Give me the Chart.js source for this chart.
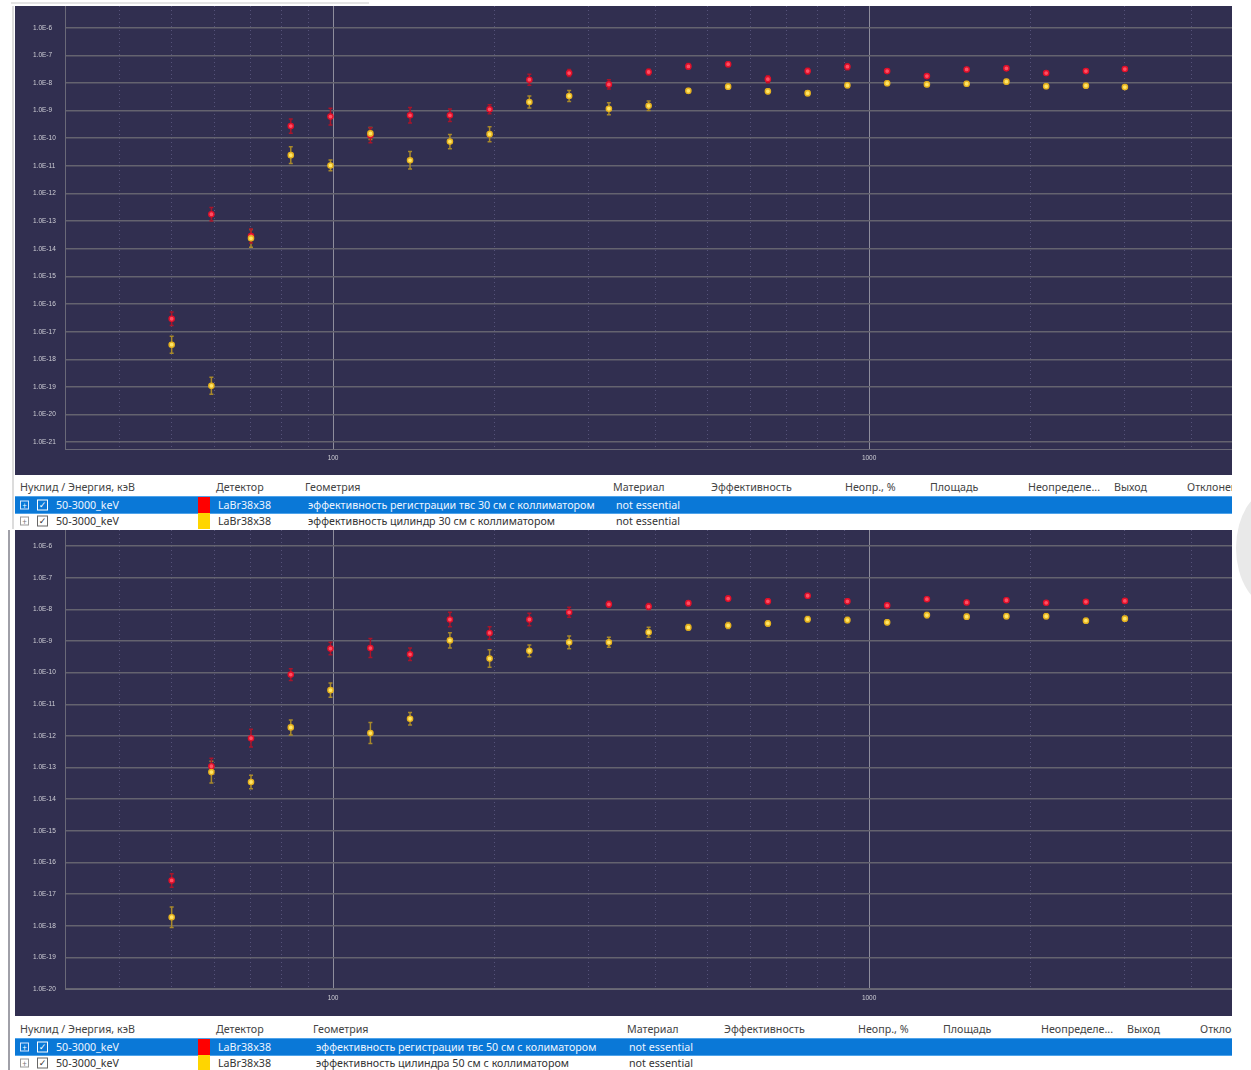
<!DOCTYPE html>
<html>
<head>
<meta charset="utf-8">
<script src="https://cdn.jsdelivr.net/npm/chart.js@4.4.0/dist/chart.umd.min.js"></script>
<style>
    body { margin: 0; width: 1251px; height: 1070px; background: #fff; position: relative; overflow: hidden;
           font-family: 'Noto Sans', 'Open Sans', sans-serif; }
    .panel { position: absolute; left: 15px; width: 1217px; background: #312f50; }
    #p1 { top: 6px; height: 469px; }
    #p2 { top: 530px; height: 486px; }
    .panel canvas { position: absolute; left: 0; top: 0; }
    .tbl { position: absolute; left: 15px; width: 1217px; background: #fff; overflow: hidden; }
    .row { position: absolute; left: 0; width: 1217px; font-size: 10.7px; color: #333; }
    .row span { position: absolute; top: 50%; transform: translateY(-50%); white-space: nowrap; }
    .hdr { color: #444; border-bottom: 1px solid #e4e4e4; }
    .sel { background: #0a78d7; color: #eef5ff; outline: 1px solid #4ea3ea; }
    .sw { width: 12px; height: 100%; top: 0 !important; transform: none !important; }
    .exp { width: 7px; height: 7px; border: 1px solid #9a9a9a; font-size: 8px; line-height: 7px; text-align: center; color: #777; }
    .sel .exp { border-color: #d8e8ff; color: #fff; }
    .chk { width: 9px; height: 9px; border: 1px solid #666; font-size: 9px; line-height: 9px; text-align: center; font-family: 'DejaVu Sans'; color: #333; }
    .sel .chk { border-color: #fff; color: #fff; }
    .side { position: absolute; left: 0; width: 8px; top: 530px; height: 540px; background: #fff; border-right: 2px solid #a0a0a8; }
    .edge { position: absolute; left: 12px; top: 6px; width: 2px; height: 523px; background: #dcdcdc; }
    .blob { position: absolute; left: 1236px; top: 488px; width: 80px; height: 120px; border-radius: 50%; background: #e9e9e9; }
    .topline { position: absolute; left: 11px; top: 2px; width: 358px; height: 2px; background: #e4e4e4; }
</style>
</head>
<body>
<div class="topline"></div>
<div class="edge"></div>
<div class="side"></div>
<div class="blob"></div>

<div class="panel" id="p1"><canvas id="chartTop" width="1217" height="469"></canvas></div>
<div class="tbl" id="t1" style="top:477px;height:52px"></div>

<div class="panel" id="p2"><canvas id="chartBottom" width="1217" height="486"></canvas></div>
<div class="tbl" id="t2" style="top:1018px;height:52px"></div>

<script>
// Energies, keV (same grid for every series)
const energies = [50, 59.3, 70.3, 83.4, 98.9, 117.4, 139.2, 165.2, 195.9, 232.4, 275.7, 327, 387.9,
                  460.1, 545.8, 647.4, 768, 911, 1080.6, 1281.8, 1520.5, 1803.6, 2139.4, 2537.8, 3000];

// Top chart: 30 cm
const top30Red = [2.95e-17, 1.78e-13, 2.9e-14, 2.76e-10, 6.1e-10, 1.29e-10, 6.8e-10, 6.8e-10, 1.12e-9,
                  1.32e-8, 2.29e-8, 8.9e-9, 2.5e-8, 4.0e-8, 4.8e-8, 1.38e-8, 2.7e-8, 3.9e-8,
                  2.7e-8, 1.78e-8, 3.1e-8, 3.4e-8, 2.29e-8, 2.7e-8, 3.2e-8];
const top30RedErr = [1.75, 1.76, 1.8, 1.82, 2.0, 1.87, 1.9, 1.68, 1.45, 1.58, 1.34, 1.48, 1.28,
                     1.28, 1.23, 1.34, 1.28, 1.28, 1.18, 1.18, 1.18, 1.18, 1.18, 1.18, 1.18];
const top30Yellow = [3.4e-18, 1.1e-19, 2.4e-14, 2.45e-11, 1.04e-11, 1.5e-10, 1.6e-11, 7.6e-11, 1.41e-10,
                     2.05e-9, 3.4e-9, 1.17e-9, 1.5e-9, 5.2e-9, 7.4e-9, 5.0e-9, 4.3e-9, 8.3e-9,
                     9.8e-9, 8.9e-9, 9.4e-9, 1.12e-8, 7.6e-9, 8.0e-9, 7.1e-9];
const top30YellowErr = [2.03, 2.03, 2.1, 2.0, 1.56, 1.65, 2.08, 1.82, 1.87, 1.65, 1.58, 1.65, 1.49,
                        1.23, 1.23, 1.23, 1.23, 1.23, 1.2, 1.2, 1.2, 1.2, 1.2, 1.2, 1.2];

// Bottom chart: 50 cm
const bot50Red = [2.7e-17, 1.1e-13, 8.5e-13, 8.7e-11, 5.8e-10, 6.0e-10, 3.8e-10, 4.8e-9, 1.8e-9,
                  4.8e-9, 8.1e-9, 1.45e-8, 1.23e-8, 1.58e-8, 2.2e-8, 1.8e-8, 2.7e-8, 1.8e-8,
                  1.34e-8, 2.1e-8, 1.66e-8, 1.95e-8, 1.62e-8, 1.74e-8, 1.86e-8];
const bot50RedErr = [1.63, 1.79, 1.9, 1.53, 1.58, 2.0, 1.58, 1.69, 1.57, 1.57, 1.44, 1.24, 1.24,
                     1.2, 1.2, 1.2, 1.18, 1.18, 1.16, 1.16, 1.16, 1.16, 1.16, 1.16, 1.16];
const bot50Yellow = [1.86e-18, 7.2e-14, 3.5e-14, 1.86e-12, 2.8e-11, 1.23e-12, 3.5e-12, 1.05e-9, 2.8e-10,
                     4.9e-10, 9.1e-10, 9.1e-10, 1.9e-9, 2.7e-9, 3.1e-9, 3.6e-9, 4.9e-9, 4.6e-9,
                     3.9e-9, 6.6e-9, 5.9e-9, 6.1e-9, 6.1e-9, 4.4e-9, 5.1e-9];
const bot50YellowErr = [2.12, 2.2, 1.63, 1.73, 1.69, 2.15, 1.58, 1.73, 1.88, 1.53, 1.58, 1.44, 1.44,
                        1.24, 1.24, 1.22, 1.22, 1.22, 1.2, 1.2, 1.2, 1.2, 1.2, 1.2, 1.2];

// Axis ticks
const xMajorTicks = [100, 1000];
const xMinorTicks = [40, 50, 60, 70, 80, 90, 200, 300, 400, 500, 600, 700, 800, 900, 2000, 3000, 4000];
const yExpTop = [-6, -7, -8, -9, -10, -11, -12, -13, -14, -15, -16, -17, -18, -19, -20, -21];
const yExpBottom = [-6, -7, -8, -9, -10, -11, -12, -13, -14, -15, -16, -17, -18, -19, -20];

// Table texts
const headersTop = ['Нуклид / Энергия, кэВ', '', 'Детектор', 'Геометрия', 'Материал', 'Эффективность',
                    'Неопр., %', 'Площадь', 'Неопределе...', 'Выход', 'Отклонение'];
const rowsTop = [
    ['50-3000_keV', '#ff0000', 'LaBr38x38', 'эффективность регистрации твс 30 см с коллиматором', 'not essential'],
    ['50-3000_keV', '#ffd500', 'LaBr38x38', 'эффективность цилиндр 30 см с коллиматором', 'not essential']
];
const rowsBottom = [
    ['50-3000_keV', '#ff0000', 'LaBr38x38', 'эффективность регистрации твс 50 см с колиматором', 'not essential'],
    ['50-3000_keV', '#ffd500', 'LaBr38x38', 'эффективность цилиндра 50 см с коллиматором', 'not essential']
];

const red = { point: '#ff4f62', border: '#e0102a', err: '#a8152a' };
const yellow = { point: '#ffe566', border: '#e6b21e', err: '#a8892a' };

// Vertical error bars drawn from the y scale
const errorBars = {
    id: 'errorBars',
    beforeDatasetsDraw(chart) {
        const ctx = chart.ctx;
        const yScale = chart.scales.y;
        chart.data.datasets.forEach((ds, di) => {
            const meta = chart.getDatasetMeta(di);
            ctx.save();
            ctx.strokeStyle = ds.errorColor;
            ctx.lineWidth = 1.5;
            meta.data.forEach((pt, i) => {
                const v = ds.data[i].y, f = ds.errors[i];
                const yTop = yScale.getPixelForValue(v * f);
                const yBot = yScale.getPixelForValue(v / f);
                ctx.beginPath();
                ctx.moveTo(pt.x, yTop); ctx.lineTo(pt.x, yBot);
                ctx.moveTo(pt.x - 2, yTop); ctx.lineTo(pt.x + 2, yTop);
                ctx.moveTo(pt.x - 2, yBot); ctx.lineTo(pt.x + 2, yBot);
                ctx.stroke();
            });
            ctx.restore();
        });
    }
};

function makeSet(values, errors, c) {
    return {
        data: energies.map((e, i) => ({ x: e, y: values[i] })),
        errors: errors,
        errorColor: c.err,
        showLine: false,
        pointRadius: 2.6,
        pointBorderWidth: 1.4,
        backgroundColor: c.point,
        borderColor: c.border
    };
}

// no label overhang padding, so the plot fills the panel edge to edge
function noPad(s) {
    s.paddingTop = 0; s.paddingBottom = 0; s.paddingLeft = 0; s.paddingRight = 0;
}

function makeChart(canvasId, sets, yMin, yMax, yExps, xHeight) {
    const tickFont = { family: 'Liberation Sans', size: 6.5 };
    return new Chart(document.getElementById(canvasId), {
        type: 'scatter',
        data: { datasets: sets },
        plugins: [errorBars],
        options: {
            responsive: false,
            animation: false,
            layout: { autoPadding: false, padding: { left: 18, right: 0, top: 0, bottom: 0 } },
            plugins: { legend: { display: false }, tooltip: { enabled: false } },
            scales: {
                x: {
                    type: 'logarithmic', min: 31.62, max: 4753,
                    afterBuildTicks: s => { s.ticks = xMajorTicks.map(v => ({ value: v })); },
                    afterFit: s => { s.height = xHeight; noPad(s); },
                    grid: { color: '#8e8d9c', lineWidth: 1, drawTicks: false },
                    border: { color: '#6a6978', width: 1 },
                    ticks: { color: '#cfcfd6', font: tickFont, padding: 5, maxRotation: 0,
                             callback: v => String(v) }
                },
                xMinor: {
                    type: 'logarithmic', position: 'bottom', min: 31.62, max: 4753,
                    afterBuildTicks: s => { s.ticks = xMinorTicks.map(v => ({ value: v })); },
                    afterFit: s => { s.height = 0; noPad(s); },
                    grid: { color: '#56537a', lineWidth: 1, drawTicks: false },
                    border: { display: false, dash: [1, 3] },
                    ticks: { display: false }
                },
                y: {
                    type: 'logarithmic', min: yMin, max: yMax,
                    afterBuildTicks: s => { s.ticks = yExps.map(e => ({ value: Math.pow(10, e) })); },
                    afterFit: s => { s.width = 32; noPad(s); },
                    grid: { color: '#64636f', lineWidth: 1.6, drawTicks: false },
                    border: { color: '#6a6978', width: 1 },
                    ticks: { color: '#cfcfd6', font: tickFont, padding: 0, crossAlign: 'far',
                             callback: v => '1.0E' + Math.round(Math.log10(v)) }
                }
            }
        }
    });
}

makeChart('chartTop', [makeSet(top30Yellow, top30YellowErr, yellow), makeSet(top30Red, top30RedErr, red)],
          5.71e-22, 6.12e-6, yExpTop, 26);
makeChart('chartBottom', [makeSet(bot50Yellow, bot50YellowErr, yellow), makeSet(bot50Red, bot50RedErr, red)],
          1e-20, 3.24e-6, yExpBottom, 27);

// Tables under each chart
function buildTable(el, headerX, rowX, rows, headTop, rowTops) {
    const head = document.createElement('div');
    head.className = 'row hdr';
    head.style.top = headTop + 'px';
    head.style.height = '18px';
    headersTop.forEach((h, i) => {
        if (!h) return;
        const s = document.createElement('span');
        s.textContent = h;
        s.style.left = headerX[i] + 'px';
        head.appendChild(s);
    });
    el.appendChild(head);

    rows.forEach((r, ri) => {
        const row = document.createElement('div');
        row.className = 'row' + (ri === 0 ? ' sel' : '');
        row.style.top = rowTops[ri] + 'px';
        row.style.height = '16px';
        row.innerHTML =
            `<span class="exp" style="left:5px">+</span>` +
            `<span class="chk" style="left:22px">✓</span>` +
            `<span style="left:41px">${r[0]}</span>` +
            `<span class="sw" style="left:183px;background:${r[1]}"></span>` +
            `<span style="left:${rowX[0]}px">${r[2]}</span>` +
            `<span style="left:${rowX[1]}px">${r[3]}</span>` +
            `<span style="left:${rowX[2]}px">${r[4]}</span>`;
        el.appendChild(row);
    });
}

buildTable(document.getElementById('t1'),
    [5, 0, 201, 290, 598, 696, 830, 915, 1013, 1099, 1172], [203, 293, 601], rowsTop, 1, [20, 36]);
buildTable(document.getElementById('t2'),
    [5, 0, 201, 298, 612, 709, 843, 928, 1026, 1112, 1185], [203, 301, 614], rowsBottom, 2, [21, 37]);
</script>
</body>
</html>
